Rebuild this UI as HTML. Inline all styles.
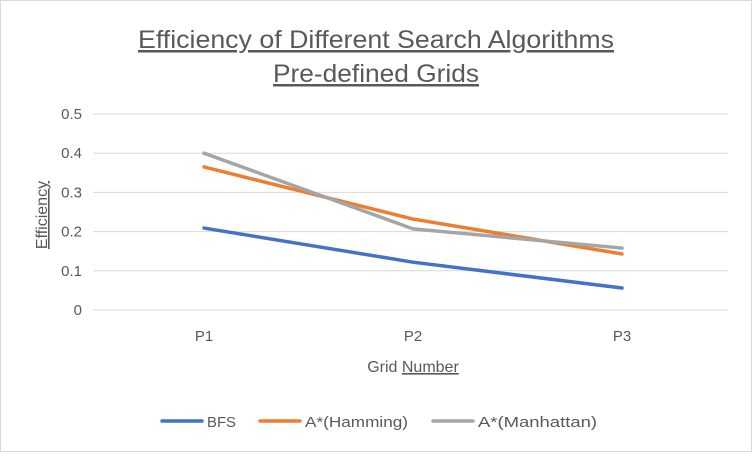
<!DOCTYPE html>
<html><head><meta charset="utf-8"><style>
body{margin:0;background:#fff;font-family:"Liberation Sans",Calibri,sans-serif;}
#wrap{position:relative;width:752px;height:452px;}
</style></head><body>
<div id="wrap">
<svg id="chart" width="752" height="452" xmlns="http://www.w3.org/2000/svg">
<rect x="0.5" y="0.5" width="751" height="451" fill="#fff" stroke="#d9d9d9"/>
<text x="138" y="48" textLength="476" lengthAdjust="spacingAndGlyphs" font-size="25" fill="#595959" text-decoration="underline">Efficiency of Different Search Algorithms</text>
<text x="273" y="82" textLength="206" lengthAdjust="spacingAndGlyphs" font-size="25" fill="#595959" text-decoration="underline">Pre-defined Grids</text>
<g id="grid"></g><g id="series"></g>
<text x="413" y="372" text-anchor="middle" font-size="16" fill="#595959">Grid <tspan text-decoration="underline">Number</tspan></text>
<text transform="translate(47,215) rotate(-90)" text-anchor="middle" font-size="16" fill="#595959" text-decoration="underline">Efficiency</text>
<g id="legend"></g>
</svg></div>
<script>
const categories=["P1","P2","P3"];
const seriesNames=["BFS","A*(Hamming)","A*(Manhattan)"];
const bfs=[0.209,0.122,0.056];
const hamming=[0.365,0.232,0.143];
const manhattan=[0.40,0.207,0.158];
const yTicks=[0,0.1,0.2,0.3,0.4,0.5];
const yTickLabels=["0","0.1","0.2","0.3","0.4","0.5"];
const colors=["#4472c4","#ed7d31","#a5a5a5"];
const NS="http://www.w3.org/2000/svg";
const x0=99.5,x1=726.5,yb=310,yt=114,ymax=0.5;
function xs(i){return x0+(x1-x0)*(i+0.5)/categories.length;}
function ys(v){return yb-(yb-yt)*v/ymax;}
const grid=document.getElementById('grid');
yTicks.forEach((t,i)=>{
 const l=document.createElementNS(NS,'line');
 l.setAttribute('x1',93);l.setAttribute('x2',728);l.setAttribute('y1',ys(t));l.setAttribute('y2',ys(t));
 l.setAttribute('stroke','#d9d9d9');
 
 
 grid.appendChild(l);
 const tx=document.createElementNS(NS,'text');
 tx.setAttribute('x',82);tx.setAttribute('y',ys(t)+5);tx.setAttribute('text-anchor','end');
 tx.setAttribute('font-size','15');tx.setAttribute('fill','#595959');tx.textContent=yTickLabels[i];
 
 
 grid.appendChild(tx);
});
categories.forEach((c,i)=>{
 const tx=document.createElementNS(NS,'text');
 tx.setAttribute('x',xs(i));tx.setAttribute('y',341);tx.setAttribute('text-anchor','middle');
 tx.setAttribute('font-size','15');tx.setAttribute('fill','#595959');tx.textContent=c;
 
 
 grid.appendChild(tx);
});
const sg=document.getElementById('series');
[bfs,hamming,manhattan].forEach((d,s)=>{
 const p=document.createElementNS(NS,'polyline');
 p.setAttribute('points',d.map((v,i)=>xs(i)+','+ys(v)).join(' '));
 p.setAttribute('fill','none');p.setAttribute('stroke',colors[s]);p.setAttribute('stroke-width','3.5');
 p.setAttribute('stroke-linecap','round');p.setAttribute('stroke-linejoin','round');
 
 
 sg.appendChild(p);
});
const lg=document.getElementById('legend');
const lx=[162,260,433];
const lw=[29,103,119];
seriesNames.forEach((n,s)=>{
 const l=document.createElementNS(NS,'line');
 l.setAttribute('x1',lx[s]);l.setAttribute('x2',lx[s]+40);l.setAttribute('y1',421);l.setAttribute('y2',421);
 l.setAttribute('stroke',colors[s]);l.setAttribute('stroke-width','3.5');l.setAttribute('stroke-linecap','round');
 
 
 lg.appendChild(l);
 const tx=document.createElementNS(NS,'text');
 tx.setAttribute('x',lx[s]+45);tx.setAttribute('y',427);tx.setAttribute('font-size','15');tx.setAttribute('fill','#595959');
 tx.setAttribute('textLength',lw[s]);tx.setAttribute('lengthAdjust','spacingAndGlyphs');
 tx.textContent=n;
 
 
 lg.appendChild(tx);
});
</script>
</body></html>
